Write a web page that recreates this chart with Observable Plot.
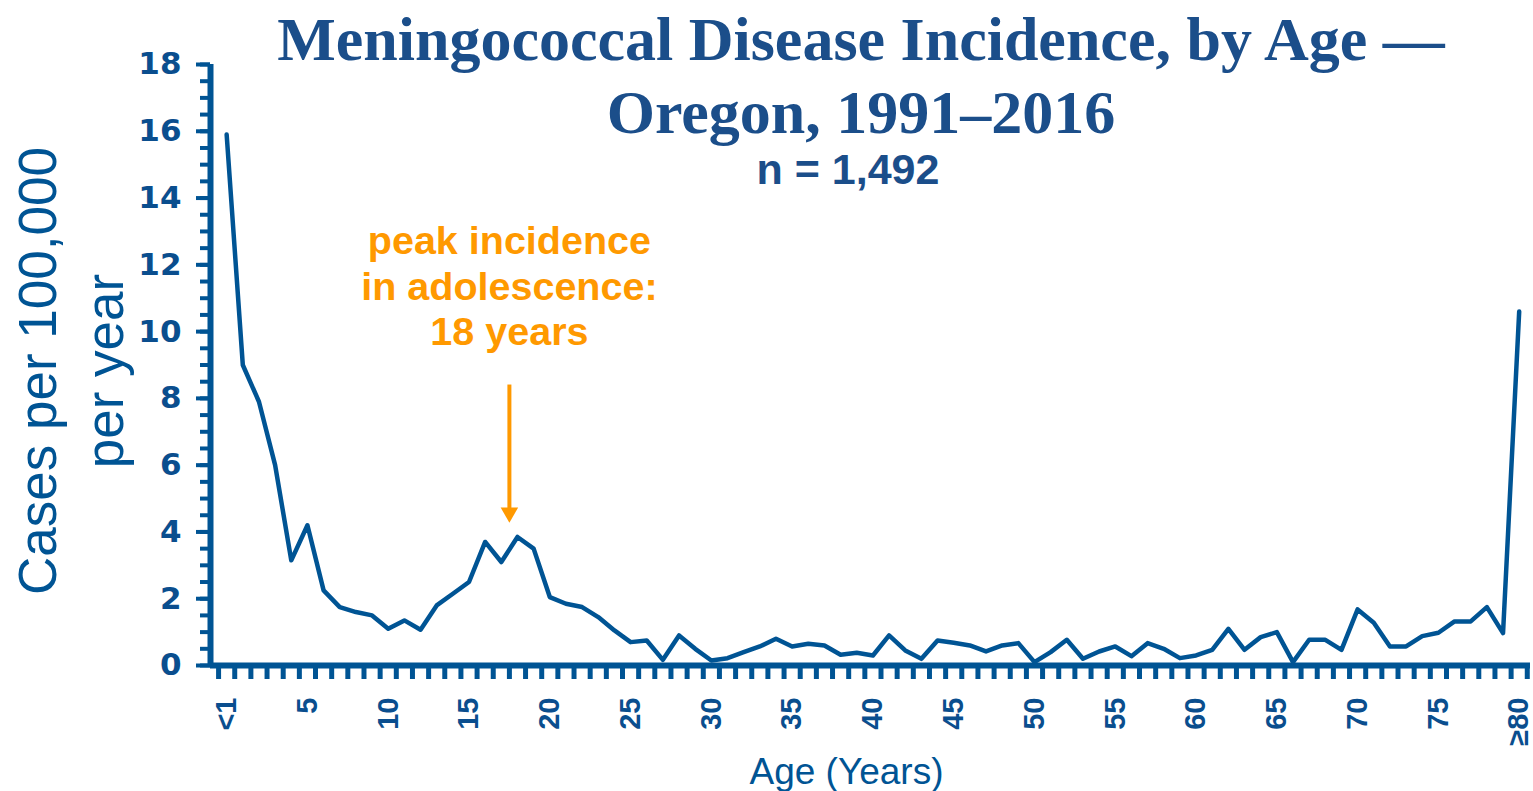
<!DOCTYPE html>
<html><head><meta charset="utf-8">
<script src="https://cdn.jsdelivr.net/npm/d3@7"></script>
<script src="https://cdn.jsdelivr.net/npm/@observablehq/plot@0.6"></script>
<style>
html,body{margin:0;padding:0;background:#fff;}
#wrap{position:relative;width:1533px;height:791px;overflow:hidden;background:#fff;}
.t{position:absolute;width:1200px;text-align:center;white-space:nowrap;}
#title1,#title2{font-family:"Liberation Serif","Times New Roman",serif;font-weight:bold;font-size:62px;line-height:62px;color:#1B4E8A;left:261px;}
#title1{top:8px;}
#title2{top:81px;}
#nlabel{font-family:"Liberation Sans",Arial,sans-serif;font-weight:bold;font-size:43px;line-height:43px;color:#1B4E8A;left:248px;top:148px;}
</style></head><body>
<div id="wrap">
  <div id="chart"></div>
  <div class="t" id="title1">Meningococcal Disease Incidence, by Age —</div>
  <div class="t" id="title2">Oregon, 1991–2016</div>
  <div class="t" id="nlabel">n = 1,492</div>
</div>
<script>
// Age categories (0 = "<1", 80 = "≥80")
const ages = [0,1,2,3,4,5,6,7,8,9,10,11,12,13,14,15,16,17,18,19,20,21,22,23,24,25,26,27,28,29,30,31,32,33,34,35,36,37,38,39,40,41,42,43,44,45,46,47,48,49,50,51,52,53,54,55,56,57,58,59,60,61,62,63,64,65,66,67,68,69,70,71,72,73,74,75,76,77,78,79,80];
// Cases per 100,000 per year
const rates = [15.9,9.0,7.9,6.0,3.15,4.2,2.25,1.75,1.6,1.5,1.1,1.35,1.07,1.8,2.15,2.5,3.7,3.1,3.85,3.5,2.05,1.85,1.75,1.45,1.05,0.7,0.75,0.17,0.9,0.5,0.15,0.22,0.4,0.57,0.8,0.57,0.65,0.6,0.32,0.38,0.3,0.9,0.45,0.2,0.75,0.68,0.6,0.42,0.6,0.67,0.1,0.4,0.77,0.2,0.42,0.57,0.28,0.67,0.5,0.22,0.3,0.47,1.1,0.47,0.85,1.0,0.1,0.77,0.77,0.47,1.68,1.28,0.57,0.57,0.88,0.98,1.32,1.32,1.75,0.97,10.6];
const xTickValues = [0,5,10,15,20,25,30,35,40,45,50,55,60,65,70,75,80];
const xTickLabels = ["<1","5","10","15","20","25","30","35","40","45","50","55","60","65","70","75","≥80"];
const yMajorTicks = [0,2,4,6,8,10,12,14,16,18];
const yMinorTicks = d3.range(0, 18.01, 0.5);
const xMinorTicks = d3.range(-0.5, 80.6, 1);
const annotationText = ["peak incidence\nin adolescence:\n18 years"];
const annotationAge = [17.5];
const annotationTextY = [13.28];
const arrowFrom = [8.4];
const arrowShaftTo = [4.7];
const arrowHeadAt = [4.58];
const yTitle = ["Cases per 100,000\nper year"];
const xTitle = ["Age (Years)"];

const blue = "#005494";
const tickBlue = "#0A4E8E";
const orange = "#FF9900";
const data = ages.map((a, i) => ({age: a, rate: rates[i]}));
const labelOf = new Map(xTickValues.map((v, i) => [v, xTickLabels[i]]));

const chart = Plot.plot({
  width: 1533,
  height: 791,
  marginLeft: 210,
  marginRight: 3,
  marginTop: 64,
  marginBottom: 126,
  style: {fontFamily: "'Liberation Sans', Arial, sans-serif", background: "#fff"},
  x: {domain: [-1, 80.7]},
  y: {domain: [0, 18]},
  marks: [
    Plot.axisX({ticks: xMinorTicks, tickSize: 14, text: null, stroke: blue, strokeWidth: 5, label: null}),
    Plot.axisX({ticks: xTickValues, tickSize: 0, tickPadding: 32, tickRotate: -90,
      tickFormat: d => labelOf.get(d), fontSize: 29, fontWeight: "bold", fill: tickBlue, label: null}),
    Plot.axisY({ticks: yMinorTicks, tickSize: 10, text: null, stroke: blue, strokeWidth: 4, label: null}),
    Plot.axisY({ticks: yMajorTicks, tickSize: 14, tickPadding: 15, stroke: blue, strokeWidth: 4,
      fontSize: 31, fontWeight: "bold", fontFamily: "'DejaVu Sans', sans-serif", fill: tickBlue, label: null}),
    Plot.ruleY([0], {stroke: blue, strokeWidth: 6}),
    Plot.ruleX([-1], {stroke: blue, strokeWidth: 6}),
    Plot.lineY(data, {x: "age", y: "rate", stroke: blue, strokeWidth: 4.5, strokeLinejoin: "round"}),
    Plot.ruleX(annotationAge, {x: d => d, y1: (d, i) => arrowFrom[i], y2: (d, i) => arrowShaftTo[i],
      stroke: orange, strokeWidth: 4}),
    Plot.dot(annotationAge, {x: d => d, y: (d, i) => arrowHeadAt[i], symbol: "triangle", rotate: 180,
      r: 6.5, fill: orange, stroke: "none"}),
    Plot.text(annotationText, {x: annotationAge, y: annotationTextY, lineAnchor: "top", lineHeight: 1.15,
      fontSize: 39.5, fontWeight: "bold", fill: orange, textAnchor: "middle"}),
    Plot.text(yTitle, {frameAnchor: "left", rotate: -90, lineAnchor: "bottom", lineHeight: 1.264,
      dx: -88, dy: 6, fontSize: 53, fill: blue, textAnchor: "middle"}),
    Plot.text(xTitle, {frameAnchor: "bottom", lineAnchor: "bottom", dx: -24, dy: 118,
      fontSize: 37, fill: blue, textAnchor: "middle"})
  ]
});
document.getElementById("chart").appendChild(chart);
</script>
</body></html>
